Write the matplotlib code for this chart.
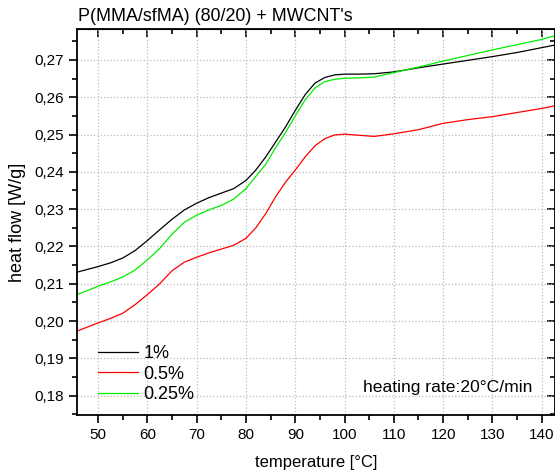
import matplotlib
matplotlib.use('Agg')
import matplotlib.pyplot as plt
from matplotlib.ticker import MultipleLocator, FuncFormatter

plt.rcParams['font.family'] = ['Liberation Sans', 'DejaVu Sans']

# temperature in degC, heat flow in W/g
temperature = [45.7, 50, 52.5, 55, 57.5, 60, 62.5, 65, 67.5, 70, 72.5, 75, 77.5, 80, 82, 84,
               86, 88, 90, 92, 94, 96, 98, 100, 103, 106, 110, 115, 120, 125, 130, 135,
               140, 142.7]
flow_1 = [0.2131, 0.2146, 0.2156, 0.2169, 0.2189, 0.2216, 0.2245, 0.2273, 0.2298, 0.2316,
          0.2331, 0.2343, 0.2355, 0.2377, 0.2405, 0.2440, 0.2480, 0.2520, 0.2565, 0.2607,
          0.2638, 0.2653, 0.2660, 0.2662, 0.2662, 0.2663, 0.2668, 0.2679, 0.2689, 0.2699,
          0.2709, 0.2720, 0.2733, 0.2740]
flow_05 = [0.1973, 0.1995, 0.2007, 0.2021, 0.2044, 0.2071, 0.2100, 0.2135, 0.2158, 0.2171,
           0.2183, 0.2193, 0.2203, 0.2222, 0.2250, 0.2288, 0.2333, 0.2372, 0.2405, 0.2440,
           0.2470, 0.2489, 0.2499, 0.2501, 0.2498, 0.2495, 0.2502, 0.2513, 0.2530, 0.2540,
           0.2548, 0.2559, 0.2570, 0.2577]
flow_025 = [0.2071, 0.2093, 0.2105, 0.2118, 0.2137, 0.2164, 0.2195, 0.2233, 0.2265, 0.2284,
            0.2298, 0.2310, 0.2327, 0.2355, 0.2388, 0.2420, 0.2465, 0.2505, 0.2550, 0.2593,
            0.2625, 0.2642, 0.2648, 0.2651, 0.2652, 0.2654, 0.2666, 0.2681, 0.2697, 0.2712,
            0.2727, 0.2741, 0.2755, 0.2765]
labels = ['1%', '0.5%', '0.25%']
colors = ['black', 'red', '#00ee00']

fig = plt.figure(figsize=(5.55, 4.72), dpi=100)
ax = fig.add_axes([77/555, 57/472, 1 - 77/555, (415 - 29)/472])

for y, lab, c in zip([flow_1, flow_05, flow_025], labels, colors):
    ax.plot(temperature, y, color=c, lw=0.9, label=lab)

ax.set_xlim(45.7, 142.7)
ax.set_ylim(0.1748, 0.2783)
ax.xaxis.set_major_locator(MultipleLocator(10))
ax.xaxis.set_minor_locator(MultipleLocator(5))
ax.yaxis.set_major_locator(MultipleLocator(0.01))
ax.yaxis.set_minor_locator(MultipleLocator(0.005))
ax.yaxis.set_major_formatter(FuncFormatter(lambda v, p: f'{v:.2f}'.replace('.', ',')))

ax.grid(True, which='major', color='#bbbbbb', linestyle=':', linewidth=0.9)
ax.tick_params(which='both', direction='out', labelsize=11, width=1.2)
ax.tick_params(which='major', length=6)
ax.tick_params(which='minor', length=3.5)
for s in ax.spines.values():
    s.set_linewidth(1.3)

# inward ticks on top and right, no labels
ax2 = ax.secondary_xaxis('top')
ax2.xaxis.set_major_locator(MultipleLocator(10))
ax2.xaxis.set_minor_locator(MultipleLocator(5))
ax2.tick_params(which='both', direction='in', labeltop=False, width=1.2)
ax2.tick_params(which='major', length=6)
ax2.tick_params(which='minor', length=3.5)
ax3 = ax.secondary_yaxis('right')
ax3.yaxis.set_major_locator(MultipleLocator(0.01))
ax3.yaxis.set_minor_locator(MultipleLocator(0.005))
ax3.tick_params(which='both', direction='in', labelright=False, width=1.2)
ax3.tick_params(which='major', length=6)
ax3.tick_params(which='minor', length=3.5)

ax.set_xlabel('temperature [°C]', fontsize=12, labelpad=9)
ax.set_ylabel('heat flow [W/g]', fontsize=13, labelpad=6)
fig.text(78/555, 1 - 21/472, "P(MMA/sfMA) (80/20) + MWCNT's", fontsize=12.9, va='baseline')

ax.legend(loc='lower left', bbox_to_anchor=(0.02, 0.0), frameon=False, fontsize=13,
          handlelength=2.2, handletextpad=0.3, labelspacing=0.2, borderaxespad=0.25)
ax.text(0.952, 0.0725, 'heating rate:20°C/min', transform=ax.transAxes, fontsize=12.6,
        ha='right', va='center')

fig.savefig('out.png', dpi=100)
